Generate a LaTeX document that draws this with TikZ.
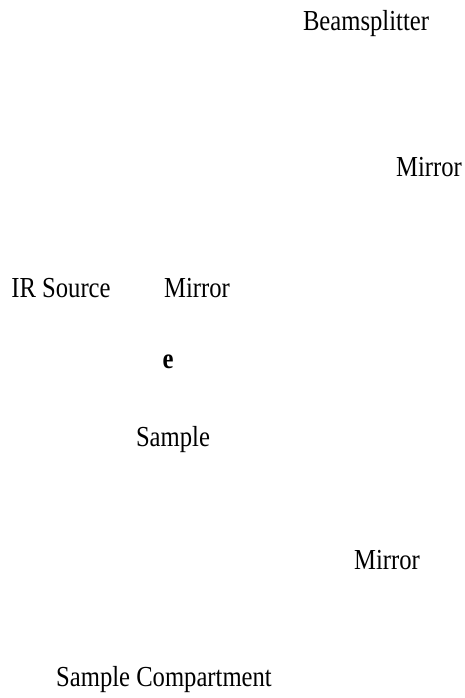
\documentclass[tikz,border=0pt]{standalone}
\usepackage{fontspec}
\setmainfont[FakeStretch=0.85]{Liberation Serif}
\begin{document}
\begin{tikzpicture}[x=1pt,y=-1pt,
  lbl/.style={inner sep=0pt,font=\fontsize{29}{31}\selectfont}]
\useasboundingbox[fill=white] (0,0) rectangle (464,698);
\node[lbl] (bs) at (366,24) {Beamsplitter};
\node[lbl] (mtop) at (429,167) {Mirror};
\node[lbl] (src) at (61,288) {IR Source};
\node[lbl] (mleft) at (197,288) {Mirror};
\node[lbl,font=\fontsize{29}{31}\selectfont\bfseries] (e) at (168,362) {e};
\node[lbl] (smp) at (173,440) {Sample};
\node[lbl] (mbot) at (387,560) {Mirror};
\node[lbl] (comp) at (164,680) {Sample Compartment};
\end{tikzpicture}
\end{document}
